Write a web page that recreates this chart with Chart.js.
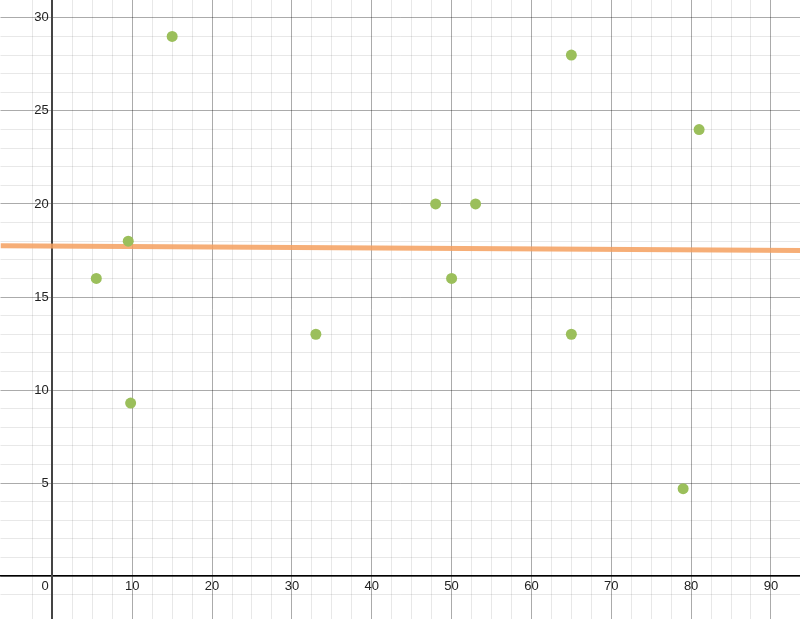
<!DOCTYPE html>
<html>
<head>
<meta charset="utf-8">
<script src="https://cdn.jsdelivr.net/npm/chart.js@4"></script>
<style>
  html, body { margin: 0; padding: 0; background: #fff; overflow: hidden; }
  #frame { position: relative; width: 800px; height: 619px; overflow: hidden; }
  #wrap { position: absolute; left: -5px; top: -12px; width: 811px; height: 643px; }
</style>
</head>
<body>
<div id="frame"><div id="wrap"><canvas id="plot"></canvas></div></div>
<script>
const pointX = [5.5, 9.5, 9.8, 15, 33, 48, 50, 53, 65, 65, 79, 81];
const pointY = [16, 18, 9.3, 29, 13, 20, 16, 20, 28, 13, 4.7, 24];
const trendX = [-6.5, 93.7];
const trendY = [17.75, 17.5];

const xMin = -6.5, xMax = 93.7;
const yMin = -2.31, yMax = 30.97;

const isStep = (v, s) => Math.abs(v / s - Math.round(v / s)) < 1e-6;

const ctx = document.getElementById('plot');

new Chart(ctx, {
  type: 'scatter',
  data: {
    datasets: [
      {
        label: 'points',
        data: pointX.map((x, i) => ({ x: x, y: pointY[i] })),
        backgroundColor: '#9bbf5b',
        borderWidth: 0,
        pointRadius: 5.5,
        pointHoverRadius: 5.5
      },
      {
        label: 'trend',
        type: 'line',
        data: trendX.map((x, i) => ({ x: x, y: trendY[i] })),
        borderColor: 'rgba(245, 160, 95, 0.85)',
        borderWidth: 5,
        pointRadius: 0,
        fill: false
      }
    ]
  },
  options: {
    responsive: true,
    maintainAspectRatio: false,
    animation: false,
    plugins: { legend: { display: false }, tooltip: { enabled: false } },
    scales: {
      x: {
        type: 'linear',
        min: xMin,
        max: xMax,
        position: { y: 0 },
        border: { color: '#000', width: 1.5 },
        grid: {
          drawTicks: false,
          color: c => !isStep(c.tick.value, 2.5) ? 'rgba(0,0,0,0)'
            : isStep(c.tick.value, 10) ? 'rgba(0,0,0,0.33)' : 'rgba(0,0,0,0.09)'
        },
        ticks: {
          stepSize: 2.5,
          autoSkip: false,
          maxRotation: 0,
          padding: 2,
          color: '#222',
          font: { family: 'Arial, "Liberation Sans", sans-serif', size: 13 },
          callback: v => v === 0 ? '0    ' : (isStep(v, 10) ? String(v) : '')
        }
      },
      y: {
        type: 'linear',
        min: yMin,
        max: yMax,
        position: { x: 0 },
        border: { color: '#444', width: 2 },
        grid: {
          drawTicks: false,
          color: c => !isStep(c.tick.value, 1) ? 'rgba(0,0,0,0)'
            : isStep(c.tick.value, 5) ? 'rgba(0,0,0,0.33)' : 'rgba(0,0,0,0.09)'
        },
        ticks: {
          stepSize: 1,
          autoSkip: false,
          padding: 4,
          color: '#222',
          font: { family: 'Arial, "Liberation Sans", sans-serif', size: 13 },
          callback: v => (v !== 0 && isStep(v, 5)) ? String(v) + ' ' : ''
        }
      }
    }
  }
});
</script>
</body>
</html>
